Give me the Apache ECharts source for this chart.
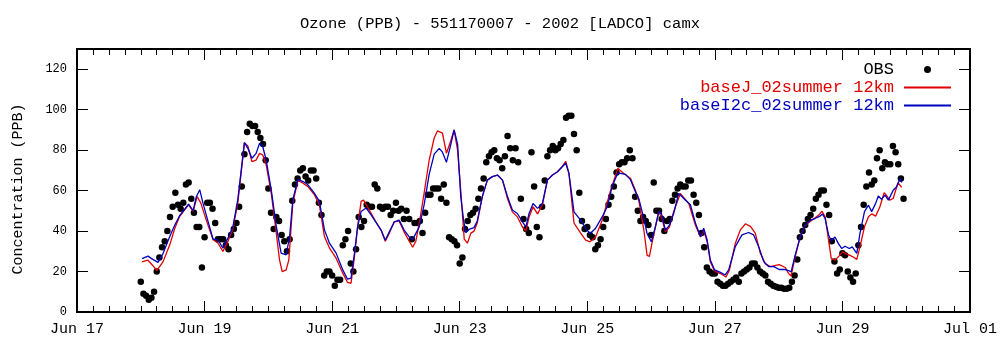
<!DOCTYPE html>
<html>
<head>
<meta charset="utf-8">
<script src="https://cdn.jsdelivr.net/npm/echarts@6/dist/echarts.min.js"></script>
<style>
html,body{margin:0;padding:0;background:#fff;}
#chart{width:1000px;height:347px;}
</style>
</head>
<body>
<div id="chart"></div>
<script>
// Tick labels of the time axis (hours counted from Jun 17 00:00, every 48 h)
const xTickLabels = ['Jun 17','Jun 19','Jun 21','Jun 23','Jun 25','Jun 27','Jun 29','Jul 01'];
// Y tick values
const yTickValues = [0, 20, 40, 60, 80, 100, 120];
// Hour offset of the first observation (Jun 18 00:00) from Jun 17 00:00
const startHour = 24;

// Observations, hourly from Jun 18 00:00
const obsHourly = [
15,9,8,6,7,10,20,27,32,35,40,47,52,59,53,51,54,63,64,56,49,42,42,22,
37,54,54,51,44,36,36,36,33,31,38,41,44,52,62,78,89,93,92,92,89,86,83,75,
61,49,41,47,45,38,35,30,36,55,63,66,70,71,67,65,70,70,66,54,48,18,20,20,
18,13,16,16,33,36,40,24,20,31,47,42,45,53,52,52,63,61,52,51,52,52,48,50,
54,50,51,46,50,46,36,44,44,45,39,49,58,58,61,61,61,56,63,54,37,36,35,33,
24,27,41,45,48,49,51,56,61,66,74,77,79,80,76,75,71,77,87,81,75,81,74,56,
46,41,39,79,62,42,37,52,65,77,80,82,80,81,83,85,96,97,97,88,80,59,45,41,
42,38,37,31,33,36,42,46,53,57,62,69,73,74,74,76,80,76,57,50,45,47,45,43,
38,64,50,50,46,40,45,46,55,58,61,63,62,62,65,65,58,54,48,39,32,22,20,19,
19,15,14,13,13,14,15,16,17,15,19,20,21,22,24,24,22,20,19,18,15,14,13,12.5,
12,12,11.5,11.5,12,15,18,26,37,40,43,46,48,51,56,58,60,60,53,48,35,25,19,21,
29,28,20,17,15,19,33,42,53,62,69,63,65,76,80,71,74,73,73,82,79,73,66,56
];

// Model baseJ_02summer 12km: [hours from Jun 18 00:00, ppb]
const modelJ = [
[0.5,24.8],[2.7,25.6],[4.5,23],[6,20.5],[8.4,24.9],[10.9,33.2],[12.8,41.4],[14.6,47.2],[16.5,50.5],[18,53],
[19.7,49.7],[21.2,57.1],[22.6,53.8],[24.8,44.8],[27.2,35.7],[29,34.1],[30.9,29.9],[32.8,34.9],[34.7,41.4],[36.5,53.8],
[39,83.7],[40.3,82],[41.8,74.3],[43.4,75.1],[44.7,78.4],[45.9,77.6],[47.2,72.6],[49.1,58.6],[51,38.9],[52.2,25.8],
[53.2,20],[54.7,20.8],[55.7,25.8],[57.2,53.8],[59.1,65],[60.9,63.8],[62.8,62.1],[65.3,58],[67.2,53],[69.1,37.3],
[71,31.6],[73.5,26.6],[76,19.2],[77.8,14.6],[79.1,14.2],[80.4,27.4],[81.6,42.3],[82.9,54.7],[83.8,55.3],[85.2,52.2],
[88.5,44.5],[90.4,40.5],[92,35],[93.5,39],[95.4,44.6],[97.2,45],[99.1,39.5],[101,35],[102.3,32],[103.5,35],
[104.8,44],[106.6,58.7],[108.5,75],[110.4,86],[111.6,89.5],[113.5,88.4],[115,78.5],[116.5,84],[117.9,90],[119.2,80],
[120.5,58],[121.7,36],[122.9,34],[124.2,39],[125.4,40],[126.6,44],[128.5,57],[130.4,65.2],[132.3,66.9],[134.2,67.7],
[136.1,65.2],[138,56],[139.8,49.5],[141.7,47],[143.6,42],[144.9,40],[146.1,47],[147.6,52],[149.3,48.5],[151.1,53],
[153,65.2],[154.9,67.7],[156.8,69.3],[158.6,72],[159.9,74.5],[161.1,68.5],[163,44],[165.5,39],[167.4,35.5],[169,34.7],
[171.1,37],[173.6,45.4],[176.8,60.2],[179.5,71],[181.7,68.5],[184.3,66],[186.1,60.2],[187.4,55],[189.3,40.4],[190.5,28],
[191.4,27.5],[192.3,33.8],[194.9,49.6],[196.1,46.2],[197.4,39.6],[198.9,42],[200.5,49.6],[203,58.6],[206.2,53.6],[208.7,42.9],
[210.6,37.1],[211.8,40.4],[213.1,34.7],[214.3,24.8],[215.9,20.2],[218.1,19],[220.2,17.3],[221.5,20.8],[223.7,34],[225.6,40.6],
[227.5,43.6],[229.4,42.3],[231.2,39],[233.1,29.1],[235,23.8],[236.9,22.4],[240.2,23.4],[242.5,22],[243.7,19.1],[244.7,17.8],
[246.2,27.2],[248.1,37.1],[250,42.9],[252.5,45.4],[255.1,47.9],[256.3,49.8],[257.5,47],[258.8,35.4],[259.8,26.4],[261.2,25.6],
[262.7,27.6],[264,29.7],[265.2,28.9],[266.8,28],[268.1,27.2],[269.4,26],[270.6,32.2],[272.3,42.1],[273.8,47.1],[275,48.5],
[276.5,47.4],[278.1,52],[279.7,59],[280.5,57.8],[281.8,55.3],[283.1,56.1],[284.9,63.9],[286.3,61.6]
];

// Model baseI2c_02summer 12km: [hours from Jun 18 00:00, ppb]
const modelI2c = [
[0.5,26.4],[2.7,27.6],[4.5,26],[6.5,24.5],[8.4,29],[10.9,37.3],[12.8,43],[14.6,47.6],[16.5,50.8],[18,53.3],
[19.7,50.1],[20.9,57],[22.2,60.4],[23.4,53.8],[25.3,44.8],[27.2,36],[29,35.7],[30.9,31.6],[32.8,36.5],[34.7,42.3],
[36.5,55.5],[39,83.7],[40.3,80.9],[41.8,76],[43.4,78.4],[44.7,83.4],[45.9,81.7],[47.2,75],[49.1,60.2],[51,42.3],
[52.8,29.1],[54.7,28.2],[56,37.3],[57.2,55.5],[59.1,65.4],[60.9,64.6],[62.8,63],[65.3,58.8],[67.2,54.7],[69.1,40.6],
[71,34],[73.5,29.1],[76,20.8],[77.8,16.2],[79.1,16.7],[80.4,29.1],[81.6,42.3],[82.9,49.7],[84.8,51.4],[86.6,48.1],
[88.5,44.3],[90.4,40.5],[92,35.5],[93.5,39.6],[95.4,44.6],[97.2,45.4],[99.1,40.5],[101,37.1],[102.3,35.9],[104.8,42.1],
[106.6,53],[108.5,68],[110.4,78],[112.3,80.9],[113.5,79],[115,74],[116.5,82],[117.9,90],[119.2,83],[120.4,57],
[121.5,45],[122.3,39.2],[123.5,40.8],[125.4,41.7],[126.6,45],[128.5,57],[130.4,65.2],[132.3,66.9],[134.2,67.7],[136.1,65.2],
[138,57],[139.8,50.4],[141.7,48.7],[143.6,44.6],[144.9,42.1],[146.1,48.7],[147.6,53.6],[149.3,51.2],[151.1,53.6],[153,65.2],
[154.9,67.7],[156.8,69.3],[158.6,71.8],[159.9,73.5],[161.1,68.5],[163,49.5],[165.5,45.4],[167.4,41.3],[169,38.8],[171.1,41.3],
[173.6,47],[175.5,52],[177.4,62.2],[179.5,68.8],[182.4,68],[184.3,65.3],[186.1,59.4],[187.4,56],[189.3,46],[190.5,38.8],
[192.1,34.7],[193.6,42],[194.9,49.6],[195.9,48.7],[197.4,40.4],[198.9,42.9],[200.5,48.7],[202.4,58.6],[203,58.9],[204.9,55.4],
[206.8,53],[208.7,43.9],[210.6,37.3],[211.8,41.4],[213.1,35.6],[214.3,25.7],[215.9,20.8],[218.1,19.6],[219.9,18.3],[221.2,20.8],
[223.7,32.3],[226.2,38.1],[228.7,39.3],[230.6,38.1],[232.5,32.3],[234.4,24.9],[236.3,22.4],[238.2,22.4],[240.2,21],[242.5,21],
[243.7,20.5],[244.7,19.8],[246.2,28],[248.1,37.1],[250,42.9],[251.9,45.4],[253.7,46.2],[255.6,47.4],[256.5,48.4],[257.5,46.2],
[258.8,38],[259.8,35.2],[261.2,37.1],[262.5,33.8],[263.7,31.4],[265,32.5],[266.6,31.4],[267.7,32.2],[269.4,29],[270.6,38.9],
[272.3,49.6],[273.8,52.8],[275,49.6],[276.5,53.7],[277.5,57.3],[278.7,55.7],[280,57.8],[281.3,55.3],[283.1,60.2],[284.4,61.9],
[285.7,66],[286.3,64]
];

const seriesNames = ['OBS','baseJ_02summer 12km','baseI2c_02summer 12km'];
const titleText = 'Ozone (PPB) - 551170007 - 2002 [LADCO] camx';
const yAxisTitle = 'Concentration (PPB)';

const MONO = '"Liberation Mono", "DejaVu Sans Mono", monospace';
const RED = '#e00000';
const BLUE = '#0000c0';

const obsData = [];
obsHourly.forEach((v, i) => { if (v != null) obsData.push([i + startHour, v]); });
const shift = arr => arr.map(p => [p[0] + startHour, p[1]]);

function xAxisCfg(pos, showLabel) {
  return {
    type: 'value', position: pos, min: 0, max: 336, interval: 48,
    axisLine: { show: false, onZero: false },
    splitLine: { show: false },
    minorSplitLine: { show: false },
    axisTick: { show: true, inside: true, length: 11, lineStyle: { color: '#000', width: 1 } },
    minorTick: { show: true, splitNumber: 8, length: 6, lineStyle: { color: '#000', width: 1 } },
    axisLabel: {
      show: showLabel, margin: 10, color: '#000', fontFamily: MONO, fontSize: 15,
      formatter: v => xTickLabels[Math.round(v / 48)] || ''
    }
  };
}
function yAxisCfg(pos, showLabel) {
  return {
    type: 'value', position: pos, min: 0, max: 130, interval: 20,
    axisLine: { show: false, onZero: false },
    splitLine: { show: false },
    axisTick: { show: true, inside: true, length: 11, customValues: yTickValues,
      lineStyle: { color: '#000', width: 1 } },
    axisLabel: {
      show: showLabel, customValues: yTickValues, margin: 10, color: '#000',
      fontFamily: MONO, fontSize: 12
    }
  };
}

const chart = echarts.init(document.getElementById('chart'), null, { renderer: 'canvas' });
chart.setOption({
  animation: false,
  backgroundColor: '#fff',
  title: {
    text: titleText, left: 'center', top: 11,
    textStyle: { fontFamily: MONO, fontSize: 15.5, fontWeight: 'normal', color: '#000' }
  },
  grid: { left: 77, right: 29, top: 49, bottom: 35, show: true, borderColor: '#000', borderWidth: 2, backgroundColor: 'transparent' },
  xAxis: [xAxisCfg('bottom', true), xAxisCfg('top', false)],
  yAxis: [yAxisCfg('left', true), yAxisCfg('right', false)],
  legend: {
    orient: 'vertical', right: 43, top: 56, align: 'right',
    itemWidth: 47, itemHeight: 7, itemGap: 1,
    textStyle: { fontFamily: MONO, fontSize: 17, padding: [0, 5, 0, 0] },
    data: [
      { name: seriesNames[0], textStyle: { color: '#000' }, itemStyle: { opacity: 1 } },
      { name: seriesNames[1], textStyle: { color: RED }, itemStyle: { opacity: 0 } },
      { name: seriesNames[2], textStyle: { color: BLUE }, itemStyle: { opacity: 0 } }
    ]
  },
  graphic: [{
    type: 'text', x: 18, y: 189, rotation: Math.PI / 2,
    style: { text: yAxisTitle, fontFamily: MONO, fontSize: 15, fill: '#000', align: 'center', verticalAlign: 'middle' }
  }],
  series: [
    { type: 'scatter', name: seriesNames[0], data: obsData, symbol: 'circle', symbolSize: 6.5,
      itemStyle: { color: '#000', opacity: 1 }, z: 2 },
    { type: 'line', name: seriesNames[1], data: shift(modelJ), symbol: 'none',
      lineStyle: { color: RED, width: 1.3 }, itemStyle: { color: RED }, z: 3 },
    { type: 'line', name: seriesNames[2], data: shift(modelI2c), symbol: 'none',
      lineStyle: { color: BLUE, width: 1.3 }, itemStyle: { color: BLUE }, z: 4 }
  ]
});
</script>
</body>
</html>
